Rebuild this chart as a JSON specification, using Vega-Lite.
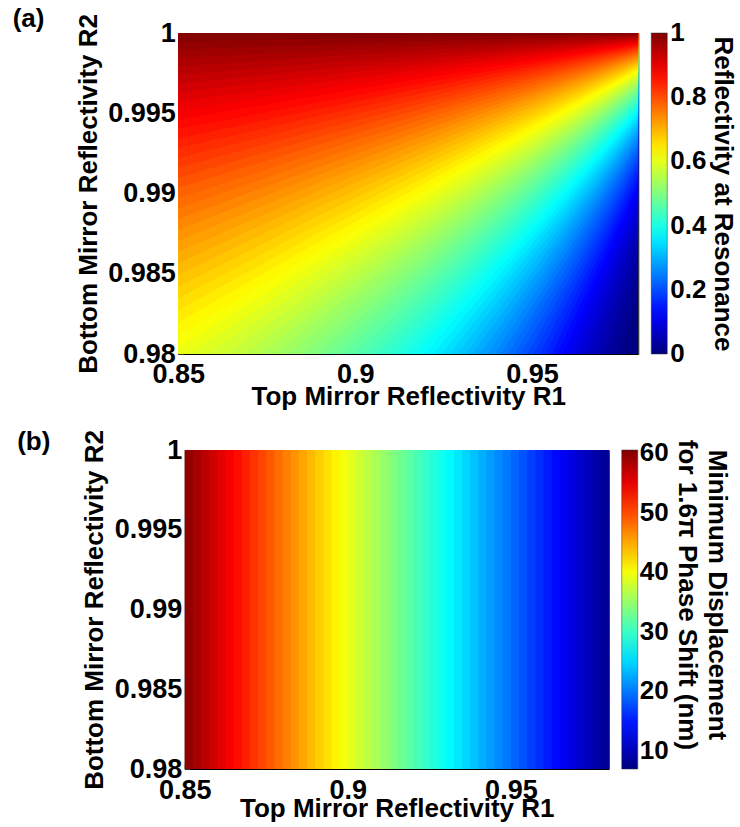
{
 "$schema": "https://vega.github.io/schema/vega-lite/v6.json",
 "background": "white",
 "padding": {"left": 12, "top": 5, "right": 0, "bottom": 0},
 "config": {
  "font": "Liberation Sans",
  "view": {"stroke": "#000000", "strokeWidth": 1},
  "axis": {"labelFont": "Liberation Sans", "labelFontSize": 27, "labelFontWeight": "bold", "labelColor": "#000000", "titleFont": "Liberation Sans", "titleFontSize": 26, "titleFontWeight": "bold", "titleColor": "#000000", "grid": false, "domain": false, "ticks": true, "tickSize": -5, "tickColor": "#333333", "tickWidth": 1, "zindex": 1},
  "legend": {"labelFont": "Liberation Sans", "labelFontSize": 26, "labelFontWeight": "bold", "labelColor": "#000000", "titleFont": "Liberation Sans", "titleFontSize": 26, "titleFontWeight": "bold", "titleColor": "#000000", "titleLimit": 500, "gradientThickness": 16, "gradientStrokeColor": "#333333", "gradientStrokeWidth": 0.5, "labelBaseline": "middle", "titleOrient": "right", "titleAnchor": "middle", "titleAlign": "center", "titleBaseline": "bottom", "direction": "vertical", "orient": "right", "offset": 13},
  "title": {"font": "Liberation Sans", "fontSize": 26, "fontWeight": "bold", "color": "#000000", "anchor": "start", "frame": "bounds", "offset": 0}
 },
 "datasets": {
  "contours": [
   {"band":"b00","v":0.00625,"R1":0.85,"lo":0.85},{"band":"b00","v":0.00625,"R1":0.89,"lo":0.89},{"band":"b00","v":0.00625,"R1":0.935,"lo":0.935},{"band":"b00","v":0.00625,"R1":0.98,"lo":0.98},
   {"band":"b01","v":0.01875,"R1":0.85,"lo":0.878265},{"band":"b01","v":0.01875,"R1":0.89,"lo":0.911114},{"band":"b01","v":0.01875,"R1":0.935,"lo":0.947726},{"band":"b01","v":0.01875,"R1":0.98,"lo":0.98399},
   {"band":"b02","v":0.03125,"R1":0.85,"lo":0.888597},{"band":"b02","v":0.03125,"R1":0.89,"lo":0.918786},{"band":"b02","v":0.03125,"R1":0.935,"lo":0.952318},{"band":"b02","v":0.03125,"R1":0.98,"lo":0.985421},
   {"band":"b03","v":0.04375,"R1":0.85,"lo":0.896055},{"band":"b03","v":0.04375,"R1":0.89,"lo":0.924307},{"band":"b03","v":0.04375,"R1":0.935,"lo":0.955616},{"band":"b03","v":0.04375,"R1":0.98,"lo":0.986445},
   {"band":"b04","v":0.05625,"R1":0.85,"lo":0.902052},{"band":"b04","v":0.05625,"R1":0.89,"lo":0.928739},{"band":"b04","v":0.05625,"R1":0.935,"lo":0.958255},{"band":"b04","v":0.05625,"R1":0.98,"lo":0.987263},
   {"band":"b05","v":0.06875,"R1":0.85,"lo":0.907123},{"band":"b05","v":0.06875,"R1":0.89,"lo":0.93248},{"band":"b05","v":0.06875,"R1":0.935,"lo":0.960478},{"band":"b05","v":0.06875,"R1":0.98,"lo":0.987952},
   {"band":"b06","v":0.08125,"R1":0.85,"lo":0.911553},{"band":"b06","v":0.08125,"R1":0.89,"lo":0.935743},{"band":"b06","v":0.08125,"R1":0.935,"lo":0.962416},{"band":"b06","v":0.08125,"R1":0.98,"lo":0.98855},
   {"band":"b07","v":0.09375,"R1":0.85,"lo":0.915501},{"band":"b07","v":0.09375,"R1":0.89,"lo":0.938645},{"band":"b07","v":0.09375,"R1":0.935,"lo":0.964137},{"band":"b07","v":0.09375,"R1":0.98,"lo":0.989081},
   {"band":"b08","v":0.10625,"R1":0.85,"lo":0.919069},{"band":"b08","v":0.10625,"R1":0.89,"lo":0.941271},{"band":"b08","v":0.10625,"R1":0.935,"lo":0.965691},{"band":"b08","v":0.10625,"R1":0.98,"lo":0.98956},
   {"band":"b09","v":0.11875,"R1":0.85,"lo":0.922334},{"band":"b09","v":0.11875,"R1":0.89,"lo":0.943667},{"band":"b09","v":0.11875,"R1":0.935,"lo":0.967107},{"band":"b09","v":0.11875,"R1":0.98,"lo":0.989996},
   {"band":"b10","v":0.13125,"R1":0.85,"lo":0.925348},{"band":"b10","v":0.13125,"R1":0.89,"lo":0.945875},{"band":"b10","v":0.13125,"R1":0.935,"lo":0.968415},{"band":"b10","v":0.13125,"R1":0.98,"lo":0.990398},
   {"band":"b11","v":0.14375,"R1":0.85,"lo":0.928149},{"band":"b11","v":0.14375,"R1":0.89,"lo":0.947928},{"band":"b11","v":0.14375,"R1":0.935,"lo":0.969624},{"band":"b11","v":0.14375,"R1":0.98,"lo":0.99077},
   {"band":"b12","v":0.15625,"R1":0.85,"lo":0.930768},{"band":"b12","v":0.15625,"R1":0.89,"lo":0.949845},{"band":"b12","v":0.15625,"R1":0.935,"lo":0.970755},{"band":"b12","v":0.15625,"R1":0.98,"lo":0.991117},
   {"band":"b13","v":0.16875,"R1":0.85,"lo":0.933229},{"band":"b13","v":0.16875,"R1":0.89,"lo":0.951645},{"band":"b13","v":0.16875,"R1":0.935,"lo":0.971815},{"band":"b13","v":0.16875,"R1":0.98,"lo":0.991443},
   {"band":"b14","v":0.18125,"R1":0.85,"lo":0.935551},{"band":"b14","v":0.18125,"R1":0.89,"lo":0.953343},{"band":"b14","v":0.18125,"R1":0.935,"lo":0.972815},{"band":"b14","v":0.18125,"R1":0.98,"lo":0.991749},
   {"band":"b15","v":0.19375,"R1":0.85,"lo":0.93775},{"band":"b15","v":0.19375,"R1":0.89,"lo":0.954949},{"band":"b15","v":0.19375,"R1":0.935,"lo":0.97376},{"band":"b15","v":0.19375,"R1":0.98,"lo":0.992039},
   {"band":"b16","v":0.20625,"R1":0.85,"lo":0.939837},{"band":"b16","v":0.20625,"R1":0.89,"lo":0.956474},{"band":"b16","v":0.20625,"R1":0.935,"lo":0.974659},{"band":"b16","v":0.20625,"R1":0.98,"lo":0.992313},
   {"band":"b17","v":0.21875,"R1":0.85,"lo":0.941828},{"band":"b17","v":0.21875,"R1":0.89,"lo":0.957926},{"band":"b17","v":0.21875,"R1":0.935,"lo":0.975512},{"band":"b17","v":0.21875,"R1":0.98,"lo":0.992574},
   {"band":"b18","v":0.23125,"R1":0.85,"lo":0.943729},{"band":"b18","v":0.23125,"R1":0.89,"lo":0.959313},{"band":"b18","v":0.23125,"R1":0.935,"lo":0.976324},{"band":"b18","v":0.23125,"R1":0.98,"lo":0.992823},
   {"band":"b19","v":0.24375,"R1":0.85,"lo":0.945548},{"band":"b19","v":0.24375,"R1":0.89,"lo":0.960637},{"band":"b19","v":0.24375,"R1":0.935,"lo":0.977103},{"band":"b19","v":0.24375,"R1":0.98,"lo":0.993061},
   {"band":"b20","v":0.25625,"R1":0.85,"lo":0.947293},{"band":"b20","v":0.25625,"R1":0.89,"lo":0.96191},{"band":"b20","v":0.25625,"R1":0.935,"lo":0.977848},{"band":"b20","v":0.25625,"R1":0.98,"lo":0.993288},
   {"band":"b21","v":0.26875,"R1":0.85,"lo":0.94897},{"band":"b21","v":0.26875,"R1":0.89,"lo":0.96313},{"band":"b21","v":0.26875,"R1":0.935,"lo":0.978562},{"band":"b21","v":0.26875,"R1":0.98,"lo":0.993507},
   {"band":"b22","v":0.28125,"R1":0.85,"lo":0.950584},{"band":"b22","v":0.28125,"R1":0.89,"lo":0.964304},{"band":"b22","v":0.28125,"R1":0.935,"lo":0.979251},{"band":"b22","v":0.28125,"R1":0.98,"lo":0.993717},
   {"band":"b23","v":0.29375,"R1":0.85,"lo":0.952139},{"band":"b23","v":0.29375,"R1":0.89,"lo":0.965438},{"band":"b23","v":0.29375,"R1":0.935,"lo":0.979915},{"band":"b23","v":0.29375,"R1":0.98,"lo":0.993919},
   {"band":"b24","v":0.30625,"R1":0.85,"lo":0.95364},{"band":"b24","v":0.30625,"R1":0.89,"lo":0.966529},{"band":"b24","v":0.30625,"R1":0.935,"lo":0.980553},{"band":"b24","v":0.30625,"R1":0.98,"lo":0.994114},
   {"band":"b25","v":0.31875,"R1":0.85,"lo":0.955094},{"band":"b25","v":0.31875,"R1":0.89,"lo":0.967581},{"band":"b25","v":0.31875,"R1":0.935,"lo":0.981171},{"band":"b25","v":0.31875,"R1":0.98,"lo":0.994302},
   {"band":"b26","v":0.33125,"R1":0.85,"lo":0.956498},{"band":"b26","v":0.33125,"R1":0.89,"lo":0.968604},{"band":"b26","v":0.33125,"R1":0.935,"lo":0.981767},{"band":"b26","v":0.33125,"R1":0.98,"lo":0.994483},
   {"band":"b27","v":0.34375,"R1":0.85,"lo":0.95786},{"band":"b27","v":0.34375,"R1":0.89,"lo":0.969591},{"band":"b27","v":0.34375,"R1":0.935,"lo":0.982345},{"band":"b27","v":0.34375,"R1":0.98,"lo":0.994659},
   {"band":"b28","v":0.35625,"R1":0.85,"lo":0.959177},{"band":"b28","v":0.35625,"R1":0.89,"lo":0.970548},{"band":"b28","v":0.35625,"R1":0.935,"lo":0.982904},{"band":"b28","v":0.35625,"R1":0.98,"lo":0.99483},
   {"band":"b29","v":0.36875,"R1":0.85,"lo":0.960457},{"band":"b29","v":0.36875,"R1":0.89,"lo":0.971476},{"band":"b29","v":0.36875,"R1":0.935,"lo":0.983447},{"band":"b29","v":0.36875,"R1":0.98,"lo":0.994995},
   {"band":"b30","v":0.38125,"R1":0.85,"lo":0.961702},{"band":"b30","v":0.38125,"R1":0.89,"lo":0.972379},{"band":"b30","v":0.38125,"R1":0.935,"lo":0.983974},{"band":"b30","v":0.38125,"R1":0.98,"lo":0.995155},
   {"band":"b31","v":0.39375,"R1":0.85,"lo":0.96291},{"band":"b31","v":0.39375,"R1":0.89,"lo":0.973257},{"band":"b31","v":0.39375,"R1":0.935,"lo":0.984486},{"band":"b31","v":0.39375,"R1":0.98,"lo":0.99531},
   {"band":"b32","v":0.40625,"R1":0.85,"lo":0.964088},{"band":"b32","v":0.40625,"R1":0.89,"lo":0.97411},{"band":"b32","v":0.40625,"R1":0.935,"lo":0.984983},{"band":"b32","v":0.40625,"R1":0.98,"lo":0.995462},
   {"band":"b33","v":0.41875,"R1":0.85,"lo":0.965236},{"band":"b33","v":0.41875,"R1":0.89,"lo":0.974941},{"band":"b33","v":0.41875,"R1":0.935,"lo":0.985468},{"band":"b33","v":0.41875,"R1":0.98,"lo":0.995609},
   {"band":"b34","v":0.43125,"R1":0.85,"lo":0.966352},{"band":"b34","v":0.43125,"R1":0.89,"lo":0.975749},{"band":"b34","v":0.43125,"R1":0.935,"lo":0.985939},{"band":"b34","v":0.43125,"R1":0.98,"lo":0.995752},
   {"band":"b35","v":0.44375,"R1":0.85,"lo":0.967441},{"band":"b35","v":0.44375,"R1":0.89,"lo":0.976539},{"band":"b35","v":0.44375,"R1":0.935,"lo":0.986399},{"band":"b35","v":0.44375,"R1":0.98,"lo":0.995892},
   {"band":"b36","v":0.45625,"R1":0.85,"lo":0.968506},{"band":"b36","v":0.45625,"R1":0.89,"lo":0.977308},{"band":"b36","v":0.45625,"R1":0.935,"lo":0.986847},{"band":"b36","v":0.45625,"R1":0.98,"lo":0.996028},
   {"band":"b37","v":0.46875,"R1":0.85,"lo":0.969542},{"band":"b37","v":0.46875,"R1":0.89,"lo":0.97806},{"band":"b37","v":0.46875,"R1":0.935,"lo":0.987285},{"band":"b37","v":0.46875,"R1":0.98,"lo":0.996161},
   {"band":"b38","v":0.48125,"R1":0.85,"lo":0.970556},{"band":"b38","v":0.48125,"R1":0.89,"lo":0.978794},{"band":"b38","v":0.48125,"R1":0.935,"lo":0.987711},{"band":"b38","v":0.48125,"R1":0.98,"lo":0.99629},
   {"band":"b39","v":0.49375,"R1":0.85,"lo":0.971547},{"band":"b39","v":0.49375,"R1":0.89,"lo":0.979508},{"band":"b39","v":0.49375,"R1":0.935,"lo":0.988128},{"band":"b39","v":0.49375,"R1":0.98,"lo":0.996416},
   {"band":"b40","v":0.50625,"R1":0.85,"lo":0.972517},{"band":"b40","v":0.50625,"R1":0.89,"lo":0.98021},{"band":"b40","v":0.50625,"R1":0.935,"lo":0.988536},{"band":"b40","v":0.50625,"R1":0.98,"lo":0.99654},
   {"band":"b41","v":0.51875,"R1":0.85,"lo":0.973464},{"band":"b41","v":0.51875,"R1":0.89,"lo":0.980895},{"band":"b41","v":0.51875,"R1":0.935,"lo":0.988935},{"band":"b41","v":0.51875,"R1":0.98,"lo":0.996661},
   {"band":"b42","v":0.53125,"R1":0.85,"lo":0.97439},{"band":"b42","v":0.53125,"R1":0.89,"lo":0.981566},{"band":"b42","v":0.53125,"R1":0.935,"lo":0.989324},{"band":"b42","v":0.53125,"R1":0.98,"lo":0.996779},
   {"band":"b43","v":0.54375,"R1":0.85,"lo":0.9753},{"band":"b43","v":0.54375,"R1":0.89,"lo":0.982222},{"band":"b43","v":0.54375,"R1":0.935,"lo":0.989706},{"band":"b43","v":0.54375,"R1":0.98,"lo":0.996894},
   {"band":"b44","v":0.55625,"R1":0.85,"lo":0.976191},{"band":"b44","v":0.55625,"R1":0.89,"lo":0.982865},{"band":"b44","v":0.55625,"R1":0.935,"lo":0.99008},{"band":"b44","v":0.55625,"R1":0.98,"lo":0.997007},
   {"band":"b45","v":0.56875,"R1":0.85,"lo":0.977063},{"band":"b45","v":0.56875,"R1":0.89,"lo":0.983495},{"band":"b45","v":0.56875,"R1":0.935,"lo":0.990446},{"band":"b45","v":0.56875,"R1":0.98,"lo":0.997118},
   {"band":"b46","v":0.58125,"R1":0.85,"lo":0.977917},{"band":"b46","v":0.58125,"R1":0.89,"lo":0.984112},{"band":"b46","v":0.58125,"R1":0.935,"lo":0.990804},{"band":"b46","v":0.58125,"R1":0.98,"lo":0.997227},
   {"band":"b47","v":0.59375,"R1":0.85,"lo":0.978756},{"band":"b47","v":0.59375,"R1":0.89,"lo":0.984717},{"band":"b47","v":0.59375,"R1":0.935,"lo":0.991156},{"band":"b47","v":0.59375,"R1":0.98,"lo":0.997333},
   {"band":"b48","v":0.60625,"R1":0.85,"lo":0.979579},{"band":"b48","v":0.60625,"R1":0.89,"lo":0.985312},{"band":"b48","v":0.60625,"R1":0.935,"lo":0.9915},{"band":"b48","v":0.60625,"R1":0.98,"lo":0.997437},
   {"band":"b49","v":0.61875,"R1":0.85,"lo":0.980388},{"band":"b49","v":0.61875,"R1":0.89,"lo":0.985894},{"band":"b49","v":0.61875,"R1":0.935,"lo":0.991839},{"band":"b49","v":0.61875,"R1":0.98,"lo":0.99754},
   {"band":"b50","v":0.63125,"R1":0.85,"lo":0.981181},{"band":"b50","v":0.63125,"R1":0.89,"lo":0.986466},{"band":"b50","v":0.63125,"R1":0.935,"lo":0.992171},{"band":"b50","v":0.63125,"R1":0.98,"lo":0.99764},
   {"band":"b51","v":0.64375,"R1":0.85,"lo":0.98196},{"band":"b51","v":0.64375,"R1":0.89,"lo":0.987028},{"band":"b51","v":0.64375,"R1":0.935,"lo":0.992497},{"band":"b51","v":0.64375,"R1":0.98,"lo":0.997739},
   {"band":"b52","v":0.65625,"R1":0.85,"lo":0.982725},{"band":"b52","v":0.65625,"R1":0.89,"lo":0.987579},{"band":"b52","v":0.65625,"R1":0.935,"lo":0.992816},{"band":"b52","v":0.65625,"R1":0.98,"lo":0.997835},
   {"band":"b53","v":0.66875,"R1":0.85,"lo":0.983477},{"band":"b53","v":0.66875,"R1":0.89,"lo":0.988122},{"band":"b53","v":0.66875,"R1":0.935,"lo":0.993131},{"band":"b53","v":0.66875,"R1":0.98,"lo":0.99793},
   {"band":"b54","v":0.68125,"R1":0.85,"lo":0.984216},{"band":"b54","v":0.68125,"R1":0.89,"lo":0.988654},{"band":"b54","v":0.68125,"R1":0.935,"lo":0.993439},{"band":"b54","v":0.68125,"R1":0.98,"lo":0.998023},
   {"band":"b55","v":0.69375,"R1":0.85,"lo":0.984943},{"band":"b55","v":0.69375,"R1":0.89,"lo":0.989178},{"band":"b55","v":0.69375,"R1":0.935,"lo":0.993743},{"band":"b55","v":0.69375,"R1":0.98,"lo":0.998115},
   {"band":"b56","v":0.70625,"R1":0.85,"lo":0.985658},{"band":"b56","v":0.70625,"R1":0.89,"lo":0.989693},{"band":"b56","v":0.70625,"R1":0.935,"lo":0.994041},{"band":"b56","v":0.70625,"R1":0.98,"lo":0.998205},
   {"band":"b57","v":0.71875,"R1":0.85,"lo":0.986362},{"band":"b57","v":0.71875,"R1":0.89,"lo":0.990199},{"band":"b57","v":0.71875,"R1":0.935,"lo":0.994335},{"band":"b57","v":0.71875,"R1":0.98,"lo":0.998294},
   {"band":"b58","v":0.73125,"R1":0.85,"lo":0.987054},{"band":"b58","v":0.73125,"R1":0.89,"lo":0.990697},{"band":"b58","v":0.73125,"R1":0.935,"lo":0.994623},{"band":"b58","v":0.73125,"R1":0.98,"lo":0.998381},
   {"band":"b59","v":0.74375,"R1":0.85,"lo":0.987735},{"band":"b59","v":0.74375,"R1":0.89,"lo":0.991188},{"band":"b59","v":0.74375,"R1":0.935,"lo":0.994907},{"band":"b59","v":0.74375,"R1":0.98,"lo":0.998466},
   {"band":"b60","v":0.75625,"R1":0.85,"lo":0.988406},{"band":"b60","v":0.75625,"R1":0.89,"lo":0.991671},{"band":"b60","v":0.75625,"R1":0.935,"lo":0.995187},{"band":"b60","v":0.75625,"R1":0.98,"lo":0.998551},
   {"band":"b61","v":0.76875,"R1":0.85,"lo":0.989066},{"band":"b61","v":0.76875,"R1":0.89,"lo":0.992146},{"band":"b61","v":0.76875,"R1":0.935,"lo":0.995462},{"band":"b61","v":0.76875,"R1":0.98,"lo":0.998634},
   {"band":"b62","v":0.78125,"R1":0.85,"lo":0.989717},{"band":"b62","v":0.78125,"R1":0.89,"lo":0.992614},{"band":"b62","v":0.78125,"R1":0.935,"lo":0.995733},{"band":"b62","v":0.78125,"R1":0.98,"lo":0.998715},
   {"band":"b63","v":0.79375,"R1":0.85,"lo":0.990358},{"band":"b63","v":0.79375,"R1":0.89,"lo":0.993075},{"band":"b63","v":0.79375,"R1":0.935,"lo":0.995999},{"band":"b63","v":0.79375,"R1":0.98,"lo":0.998796},
   {"band":"b64","v":0.80625,"R1":0.85,"lo":0.990989},{"band":"b64","v":0.80625,"R1":0.89,"lo":0.993529},{"band":"b64","v":0.80625,"R1":0.935,"lo":0.996262},{"band":"b64","v":0.80625,"R1":0.98,"lo":0.998875},
   {"band":"b65","v":0.81875,"R1":0.85,"lo":0.991611},{"band":"b65","v":0.81875,"R1":0.89,"lo":0.993976},{"band":"b65","v":0.81875,"R1":0.935,"lo":0.996521},{"band":"b65","v":0.81875,"R1":0.98,"lo":0.998953},
   {"band":"b66","v":0.83125,"R1":0.85,"lo":0.992225},{"band":"b66","v":0.83125,"R1":0.89,"lo":0.994417},{"band":"b66","v":0.83125,"R1":0.935,"lo":0.996776},{"band":"b66","v":0.83125,"R1":0.98,"lo":0.99903},
   {"band":"b67","v":0.84375,"R1":0.85,"lo":0.99283},{"band":"b67","v":0.84375,"R1":0.89,"lo":0.994852},{"band":"b67","v":0.84375,"R1":0.935,"lo":0.997027},{"band":"b67","v":0.84375,"R1":0.98,"lo":0.999105},
   {"band":"b68","v":0.85625,"R1":0.85,"lo":0.993426},{"band":"b68","v":0.85625,"R1":0.89,"lo":0.99528},{"band":"b68","v":0.85625,"R1":0.935,"lo":0.997275},{"band":"b68","v":0.85625,"R1":0.98,"lo":0.99918},
   {"band":"b69","v":0.86875,"R1":0.85,"lo":0.994014},{"band":"b69","v":0.86875,"R1":0.89,"lo":0.995703},{"band":"b69","v":0.86875,"R1":0.935,"lo":0.997519},{"band":"b69","v":0.86875,"R1":0.98,"lo":0.999253},
   {"band":"b70","v":0.88125,"R1":0.85,"lo":0.994594},{"band":"b70","v":0.88125,"R1":0.89,"lo":0.99612},{"band":"b70","v":0.88125,"R1":0.935,"lo":0.99776},{"band":"b70","v":0.88125,"R1":0.98,"lo":0.999326},
   {"band":"b71","v":0.89375,"R1":0.85,"lo":0.995167},{"band":"b71","v":0.89375,"R1":0.89,"lo":0.996531},{"band":"b71","v":0.89375,"R1":0.935,"lo":0.997997},{"band":"b71","v":0.89375,"R1":0.98,"lo":0.999398},
   {"band":"b72","v":0.90625,"R1":0.85,"lo":0.995732},{"band":"b72","v":0.90625,"R1":0.89,"lo":0.996937},{"band":"b72","v":0.90625,"R1":0.935,"lo":0.998232},{"band":"b72","v":0.90625,"R1":0.98,"lo":0.999468},
   {"band":"b73","v":0.91875,"R1":0.85,"lo":0.996289},{"band":"b73","v":0.91875,"R1":0.89,"lo":0.997337},{"band":"b73","v":0.91875,"R1":0.935,"lo":0.998463},{"band":"b73","v":0.91875,"R1":0.98,"lo":0.999538},
   {"band":"b74","v":0.93125,"R1":0.85,"lo":0.99684},{"band":"b74","v":0.93125,"R1":0.89,"lo":0.997732},{"band":"b74","v":0.93125,"R1":0.935,"lo":0.998691},{"band":"b74","v":0.93125,"R1":0.98,"lo":0.999607},
   {"band":"b75","v":0.94375,"R1":0.85,"lo":0.997383},{"band":"b75","v":0.94375,"R1":0.89,"lo":0.998122},{"band":"b75","v":0.94375,"R1":0.935,"lo":0.998916},{"band":"b75","v":0.94375,"R1":0.98,"lo":0.999674},
   {"band":"b76","v":0.95625,"R1":0.85,"lo":0.997919},{"band":"b76","v":0.95625,"R1":0.89,"lo":0.998507},{"band":"b76","v":0.95625,"R1":0.935,"lo":0.999139},{"band":"b76","v":0.95625,"R1":0.98,"lo":0.999741},
   {"band":"b77","v":0.96875,"R1":0.85,"lo":0.998449},{"band":"b77","v":0.96875,"R1":0.89,"lo":0.998887},{"band":"b77","v":0.96875,"R1":0.935,"lo":0.999358},{"band":"b77","v":0.96875,"R1":0.98,"lo":0.999807},
   {"band":"b78","v":0.98125,"R1":0.85,"lo":0.998973},{"band":"b78","v":0.98125,"R1":0.89,"lo":0.999263},{"band":"b78","v":0.98125,"R1":0.935,"lo":0.999575},{"band":"b78","v":0.98125,"R1":0.98,"lo":0.999872},
   {"band":"b79","v":0.99375,"R1":0.85,"lo":0.999489},{"band":"b79","v":0.99375,"R1":0.89,"lo":0.999634},{"band":"b79","v":0.99375,"R1":0.935,"lo":0.999789},{"band":"b79","v":0.99375,"R1":0.98,"lo":0.999936}
  ],
  "bands": [
   {"R1":0.85,"D":59.48},{"R1":0.8525,"D":58.44},{"R1":0.855,"D":57.40},{"R1":0.8575,"D":56.36},
   {"R1":0.86,"D":55.32},{"R1":0.8625,"D":54.29},{"R1":0.865,"D":53.26},{"R1":0.8675,"D":52.23},
   {"R1":0.87,"D":51.20},{"R1":0.8725,"D":50.17},{"R1":0.875,"D":49.14},{"R1":0.8775,"D":48.11},
   {"R1":0.88,"D":47.09},{"R1":0.8825,"D":46.07},{"R1":0.885,"D":45.05},{"R1":0.8875,"D":44.03},
   {"R1":0.89,"D":43.01},{"R1":0.8925,"D":41.99},{"R1":0.895,"D":40.97},{"R1":0.8975,"D":39.96},
   {"R1":0.9,"D":38.95},{"R1":0.9025,"D":37.93},{"R1":0.905,"D":36.93},{"R1":0.9075,"D":35.92},
   {"R1":0.91,"D":34.91},{"R1":0.9125,"D":33.90},{"R1":0.915,"D":32.90},{"R1":0.9175,"D":31.89},
   {"R1":0.92,"D":30.89},{"R1":0.9225,"D":29.89},{"R1":0.925,"D":28.89},{"R1":0.9275,"D":27.89},
   {"R1":0.93,"D":26.90},{"R1":0.9325,"D":25.90},{"R1":0.935,"D":24.91},{"R1":0.9375,"D":23.92},
   {"R1":0.94,"D":22.93},{"R1":0.9425,"D":21.94},{"R1":0.945,"D":20.95},{"R1":0.9475,"D":19.96},
   {"R1":0.95,"D":18.97},{"R1":0.9525,"D":17.99},{"R1":0.955,"D":17.01},{"R1":0.9575,"D":16.02},
   {"R1":0.96,"D":15.04},{"R1":0.9625,"D":14.06},{"R1":0.965,"D":13.09},{"R1":0.9675,"D":12.11},
   {"R1":0.97,"D":11.13},{"R1":0.9725,"D":10.16},{"R1":0.975,"D":9.18},{"R1":0.9775,"D":8.21}
  ]
 },
 "concat": [
  {
   "width": 460,
   "height": 321,
   "title": {"text": "(a)", "dx": -63, "dy": 22},
   "data": {"name": "contours"},
   "mark": {"type": "area", "clip": true},
   "encoding": {
    "x": {"field": "R1", "type": "quantitative", "scale": {"domain": [0.85, 0.98], "nice": false, "zero": false}, "axis": {"title": "Top Mirror Reflectivity R1", "values": [0.85, 0.9, 0.95], "format": "~g", "labelFlush": false, "labelPadding": 12, "titlePadding": -4}},
    "y": {"field": "lo", "type": "quantitative", "stack": null, "scale": {"domain": [0.98, 1], "nice": false, "zero": false}, "axis": {"title": "Bottom Mirror Reflectivity R2", "values": [0.98, 0.985, 0.99, 0.995, 1], "format": "~g", "labelPadding": 8, "titlePadding": 6}},
    "y2": {"datum": 1},
    "detail": {"field": "band", "type": "nominal"},
    "color": {"field": "v", "type": "quantitative", "scale": {"domain": [0, 0.125, 0.375, 0.625, 0.875, 1], "range": ["#00007F", "#0000FF", "#00FFFF", "#FFFF00", "#FF0000", "#7F0000"], "interpolate": "rgb"}, "legend": {"type": "gradient", "title": "Reflectivity at Resonance", "values": [0, 0.2, 0.4, 0.6, 0.8, 1], "format": "~g", "gradientLength": 321, "labelOffset": 3, "titlePadding": 4, "encode": {"title": {"update": {"angle": {"value": 90}}}, "labels": {"update": {"baseline": {"value": "middle"}}}}}}
   }
  },
  {
   "width": 424,
   "height": 319,
   "title": {"text": "(b)", "dx": -64, "dy": 29},
   "data": {"name": "bands"},
   "mark": {"type": "rect"},
   "encoding": {
    "x": {"field": "R1", "type": "quantitative", "scale": {"domain": [0.85, 0.98], "nice": false, "zero": false}, "axis": {"title": "Top Mirror Reflectivity R1", "values": [0.85, 0.9, 0.95], "format": "~g", "labelFlush": false, "labelPadding": 13, "titlePadding": -8}},
    "x2": {"datum": 0.98},
    "y": {"datum": 0.98, "type": "quantitative", "scale": {"domain": [0.98, 1], "nice": false, "zero": false}, "axis": {"title": "Bottom Mirror Reflectivity R2", "values": [0.98, 0.985, 0.99, 0.995, 1], "format": "~g", "labelPadding": 8, "titlePadding": 7}},
    "y2": {"datum": 1},
    "color": {"field": "D", "type": "quantitative", "scale": {"domain": [7, 13.6875, 27.0625, 40.4375, 53.8125, 60.5], "range": ["#00007F", "#0000FF", "#00FFFF", "#FFFF00", "#FF0000", "#7F0000"], "interpolate": "rgb"}, "legend": {"type": "gradient", "title": ["Minimum Displacement", "for 1.6π Phase Shift (nm)"], "values": [10, 20, 30, 40, 50, 60], "format": "d", "gradientLength": 319, "labelOffset": 2, "titlePadding": 35, "titleLineHeight": 30, "encode": {"title": {"update": {"angle": {"value": 90}}}, "labels": {"update": {"baseline": {"value": "middle"}}}}}}
   }
  }
 ],
 "columns": 1,
 "center": true,
 "spacing": 18,
 "resolve": {"scale": {"color": "independent", "x": "independent", "y": "independent"}, "legend": {"color": "independent"}}
}
